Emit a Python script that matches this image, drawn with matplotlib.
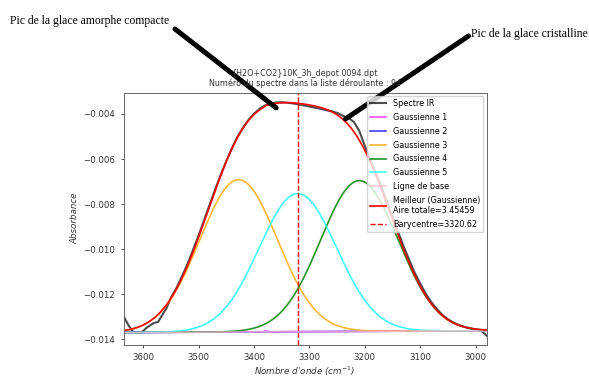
import numpy as np
import matplotlib
matplotlib.use("Agg")
import matplotlib.pyplot as plt

# ===== données =====
# spectre IR mesuré (nombre d'onde, absorbance)
wavenumbers = [3634, 3627, 3618, 3603, 3593, 3582, 3573, 3564, 3558, 3550,
               3540, 3530, 3520, 3510, 3500, 3490, 3480, 3470, 3460, 3450,
               3440, 3430, 3420, 3410, 3400, 3390, 3380, 3370, 3360, 3350,
               3340, 3330, 3320, 3310, 3300, 3290, 3280, 3270, 3260, 3250,
               3238, 3228, 3220, 3210, 3202, 3190, 3180, 3170, 3160, 3150,
               3140, 3130, 3120, 3110, 3100, 3090, 3080, 3070, 3060, 3050,
               3040, 3030, 3020, 3010, 3000, 2990, 2980]
absorbance = [-0.01304, -0.01337, -0.01369, -0.01369, -0.01347, -0.01329, -0.01322, -0.01285, -0.01262, -0.01215,
              -0.01172, -0.01120, -0.01065, -0.01002, -0.00938, -0.00870, -0.00801, -0.00734, -0.00669, -0.00608,
              -0.00552, -0.00502, -0.00461, -0.00426, -0.00399, -0.00377, -0.00362, -0.00353, -0.00349, -0.00348,
              -0.00350, -0.00353, -0.00357, -0.00362, -0.00367, -0.00372, -0.00377, -0.00383, -0.00388, -0.00395,
              -0.00410, -0.00420, -0.00435, -0.00475, -0.00529, -0.00605, -0.00662, -0.00722, -0.00788, -0.00855,
              -0.00922, -0.00988, -0.01047, -0.01105, -0.01153, -0.01198, -0.01235, -0.01266, -0.01292, -0.01311,
              -0.01326, -0.01337, -0.01345, -0.01351, -0.01356, -0.01362, -0.01384]

# paramètres des 5 gaussiennes (centre, amplitude, sigma)
g_centres = [3378, 3300, 3428, 3210, 3321]
g_amplitudes = [0.00004, 0.000002, 0.00676, 0.00669, 0.00613]
g_sigmas = [3, 50, 70, 70, 70]
g_labels = ["Gaussienne 1", "Gaussienne 2", "Gaussienne 3", "Gaussienne 4", "Gaussienne 5"]
g_colors = ["magenta", "blue", "orange", "green", "cyan"]
g_alphas = [0.7, 0.75, 0.8, 0.85, 0.75]

# ligne de base (extrémités)
base_x = [3634, 2980]
base_y = [-0.01370, -0.01362]

aire_totale = 3.45459
barycentre = 3320.62
titre = "{H2O+CO2}10K_3h_depot.0094.dpt\nNuméro du spectre dans la liste déroulante : 94"

# ===== tracé =====
W, H = 589, 378
fig = plt.figure(figsize=(W / 100, H / 100), dpi=100)
ax = fig.add_axes([123.5 / W, 1 - 344.5 / H, (486.7 - 123.5) / W, (344.5 - 92.7) / H])

x = np.linspace(base_x[0], base_x[1], 800)
base = np.interp(x, base_x[::-1], base_y[::-1])

ax.plot(wavenumbers, absorbance, color="black", lw=1.5, alpha=0.7, label="Spectre IR")
total = base.copy()
for c, a, s, lab, col, al in zip(g_centres, g_amplitudes, g_sigmas, g_labels, g_colors, g_alphas):
    g = a * np.exp(-(x - c) ** 2 / (2 * s ** 2))
    total += g
    ax.plot(x, base + g, color=col, lw=1.2, alpha=al, label=lab)
ax.plot(x, base, color="pink", lw=1.2, alpha=0.8, label="Ligne de base")
ax.plot(x, total, color="red", lw=1.2, label=f"Meilleur (Gaussienne)\nAire totale={aire_totale}")
ax.axvline(barycentre, color="red", ls="--", lw=1.0, label=f"Barycentre={barycentre}")

ax.set_xlim(3635.7, 2980)
ax.set_ylim(-0.014231, -0.003055)
ax.set_xticks([3600, 3500, 3400, 3300, 3200, 3100, 3000])
ax.set_yticks([-0.004, -0.006, -0.008, -0.010, -0.012, -0.014])
ax.tick_params(labelsize=6.2, colors="#333333", length=2.5, width=0.6)
for sp in ax.spines.values():
    sp.set_color("#666666")
    sp.set_linewidth(0.7)
ax.set_xlabel(r"Nombre d'onde ($cm^{-1}$)", fontsize=6.3, fontstyle="italic", color="#333333", labelpad=2)
ax.set_ylabel("Absorbance", fontsize=6.3, fontstyle="italic", color="#333333", labelpad=3)
ax.set_title(titre, fontsize=5.8, color="#333333", pad=5, linespacing=1.1)
ax.legend(loc="upper right", fontsize=5.8, borderaxespad=0.4, labelspacing=0.6)

# annotations du document
fig.text(10 / W, 1 - 21 / H, "Pic de la glace amorphe compacte", family="Liberation Serif",
         fontsize=8.4, va="center", ha="left")
fig.text(471 / W, 1 - 34 / H, "Pic de la glace cristalline", family="Liberation Serif",
         fontsize=8.4, va="center", ha="left")
arrow = dict(arrowstyle="-", color="black", lw=3.6, shrinkA=0, shrinkB=0)
ax.annotate("", xy=(3360, -0.00373), xycoords="data", xytext=(175 / W, 1 - 29 / H),
            textcoords="figure fraction", arrowprops=arrow, annotation_clip=False)
ax.annotate("", xy=(3235, -0.00422), xycoords="data", xytext=(468.5 / W, 1 - 36 / H),
            textcoords="figure fraction", arrowprops=arrow, annotation_clip=False)

fig.savefig("out.png", dpi=100)
